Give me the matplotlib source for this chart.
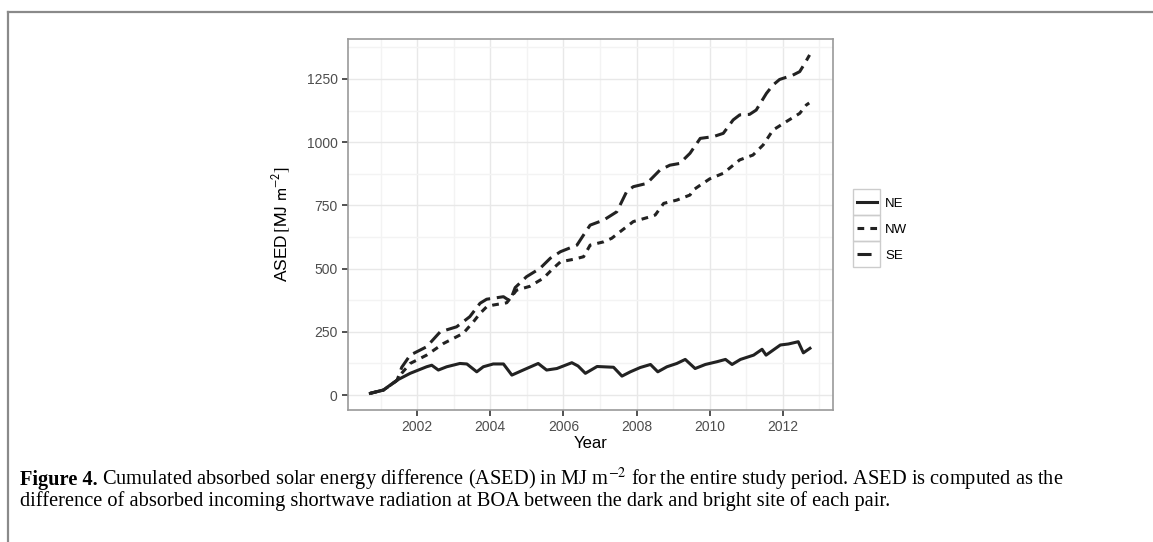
import matplotlib
matplotlib.use("Agg")
import matplotlib.pyplot as plt
from matplotlib.lines import Line2D
from matplotlib.patches import Rectangle
from matplotlib.ticker import FixedLocator

plt.rcParams['font.family'] = ['Liberation Sans', 'DejaVu Sans']

# values (decimal year, MJ m-2)
ne_year = [2000.72, 2001.08, 2001.45, 2001.81, 2002.26, 2002.40, 2002.58, 2002.81, 2003.17,
           2003.36, 2003.63, 2003.81, 2004.08, 2004.36, 2004.59, 2004.90, 2005.31, 2005.54,
           2005.82, 2006.23, 2006.40, 2006.60, 2006.92, 2007.37, 2007.60, 2007.83, 2008.10,
           2008.38, 2008.58, 2008.83, 2009.10, 2009.33, 2009.60, 2009.88, 2010.20, 2010.43,
           2010.61, 2010.84, 2011.20, 2011.43, 2011.54, 2011.93, 2012.15, 2012.42, 2012.56,
           2012.74]
ne_val = [7, 20, 59, 86, 112, 118, 99, 112, 125,
          123, 92, 112, 123, 123, 79, 99, 125, 99,
          105, 128, 115, 86, 113, 110, 75, 92, 109,
          121, 92, 112, 125, 141, 105, 121, 132, 141,
          121, 141, 158, 181, 158, 198, 202, 211, 167,
          185]

nw_year = [2000.72, 2001.08, 2001.45, 2001.60, 2001.81, 2002.26, 2002.72, 2002.99, 2003.26,
           2003.54, 2003.72, 2003.90, 2004.08, 2004.45, 2004.72, 2005.08, 2005.45, 2005.72,
           2005.92, 2006.28, 2006.55, 2006.73, 2007.10, 2007.32, 2007.55, 2007.91, 2008.37,
           2008.51, 2008.74, 2009.10, 2009.46, 2009.55, 2009.74, 2010.00, 2010.37, 2010.82,
           2011.18, 2011.46, 2011.73, 2012.09, 2012.46, 2012.64, 2012.72]
nw_val = [7, 20, 58, 90, 125, 158, 204, 224, 244,
          290, 323, 349, 356, 365, 415, 430, 462, 501,
          527, 537, 547, 593, 606, 620, 646, 686, 705,
          712, 758, 771, 791, 811, 830, 855, 877, 930,
          949, 989, 1048, 1081, 1114, 1147, 1155]

se_year = [2000.72, 2001.08, 2001.45, 2001.58, 2001.81, 2002.26, 2002.63, 2003.08, 2003.44,
           2003.72, 2003.90, 2004.36, 2004.54, 2004.68, 2004.99, 2005.36, 2005.64, 2005.92,
           2006.37, 2006.55, 2006.73, 2007.10, 2007.46, 2007.73, 2007.91, 2008.28, 2008.64,
           2008.91, 2009.18, 2009.46, 2009.74, 2010.10, 2010.37, 2010.64, 2010.82, 2011.09,
           2011.27, 2011.55, 2011.73, 2011.91, 2012.27, 2012.46, 2012.60, 2012.73]
se_val = [7, 20, 58, 110, 158, 191, 250, 270, 310,
          363, 379, 389, 372, 425, 468, 501, 541, 567,
          593, 633, 672, 692, 725, 805, 824, 837, 890,
          909, 916, 956, 1015, 1022, 1035, 1088, 1108, 1110,
          1127, 1193, 1226, 1248, 1265, 1279, 1312, 1345]

x_ticks = [2002, 2004, 2006, 2008, 2010, 2012]
x_minor = [2001, 2003, 2005, 2007, 2009, 2011, 2013]
y_ticks = [0, 250, 500, 750, 1000, 1250]
y_minor = [125, 375, 625, 875, 1125, 1375]

W, H = 1153, 542
line_col = '#222222'
fig = plt.figure(figsize=(W / 100, H / 100), dpi=100)
ax = fig.add_axes([348 / W, 1 - 410 / H, 485 / W, 371 / H])

ax.plot(ne_year, ne_val, color=line_col, lw=2.2, solid_joinstyle='round', label='NE')
ax.plot(nw_year, nw_val, color=line_col, lw=2.2, dashes=(2.2, 2.0), label='NW')
ax.plot(se_year, se_val, color=line_col, lw=2.2, dashes=(4.6, 2.2), label='SE')

ax.set_xlim(2000.11, 2013.37)
ax.set_ylim(-59, 1408)
ax.set_xticks(x_ticks)
ax.set_yticks(y_ticks)
ax.xaxis.set_minor_locator(FixedLocator(x_minor))
ax.yaxis.set_minor_locator(FixedLocator(y_minor))
ax.grid(which='major', color='#e8e8e8', lw=1.0)
ax.grid(which='minor', color='#f3f3f3', lw=1.0)
ax.set_axisbelow(True)
ax.tick_params(which='major', length=4.5, width=1.2, color='#333333', labelcolor='#4d4d4d',
               labelsize=10, pad=3)
ax.tick_params(which='minor', length=0)
for s in ax.spines.values():
    s.set_color('#9a9a9a')
    s.set_linewidth(1.2)

ax.set_xlabel('Year', fontsize=12, labelpad=1)
ax.set_ylabel(r'ASED$\,\left[\mathrm{MJ\ m^{-2}}\right]$', fontsize=12.5, labelpad=10,
              math_fontfamily='stixsans')

leg = ax.legend(loc='upper left', bbox_to_anchor=(850 / W, 1 - 191 / H),
                bbox_transform=fig.transFigure, frameon=False, fontsize=9.5,
                handlelength=1.55, handletextpad=0.6, labelspacing=1.05, borderpad=0)

# page frame (top and left rules)
fig.add_artist(Line2D([8 / W, 1], [1 - 12 / H, 1 - 12 / H], color='#8a8a8a', lw=1.6))
fig.add_artist(Line2D([8 / W, 8 / W], [0, 1 - 12 / H], color='#8a8a8a', lw=1.6))

# caption
cap_size = 14.7
cap_y1 = 1 - 485 / H
cap_y2 = 1 - 506 / H
t_bold = fig.text(20 / W, cap_y1, 'Figure 4.', fontsize=cap_size, fontweight='bold',
                  family='Liberation Serif', va='baseline')
fig.canvas.draw()
r = fig.canvas.get_renderer()
bb = t_bold.get_window_extent(r)
fig.text((bb.x1 + 4) / W, cap_y1,
         r'Cumulated absorbed solar energy difference (ASED) in MJ m$^{-2}$ for the entire study '
         'period. ASED is computed as the',
         fontsize=cap_size, family='Liberation Serif', math_fontfamily='stix', va='baseline')
fig.text(20 / W, cap_y2,
         'difference of absorbed incoming shortwave radiation at BOA between the dark and '
         'bright site of each pair.',
         fontsize=cap_size, family='Liberation Serif', va='baseline')

# ggplot style legend key boxes
fig.canvas.draw()
for h in leg.legend_handles:
    e = h.get_window_extent(r)
    cx = (e.x0 + e.x1) / 2
    cy = (e.y0 + e.y1) / 2
    fig.add_artist(Rectangle(((cx - 13.5) / W, (cy - 13) / H), 27 / W, 26 / H,
                             transform=fig.transFigure, fill=False, ec='#cccccc', lw=1.0))

fig.savefig('out.png', dpi=100)
